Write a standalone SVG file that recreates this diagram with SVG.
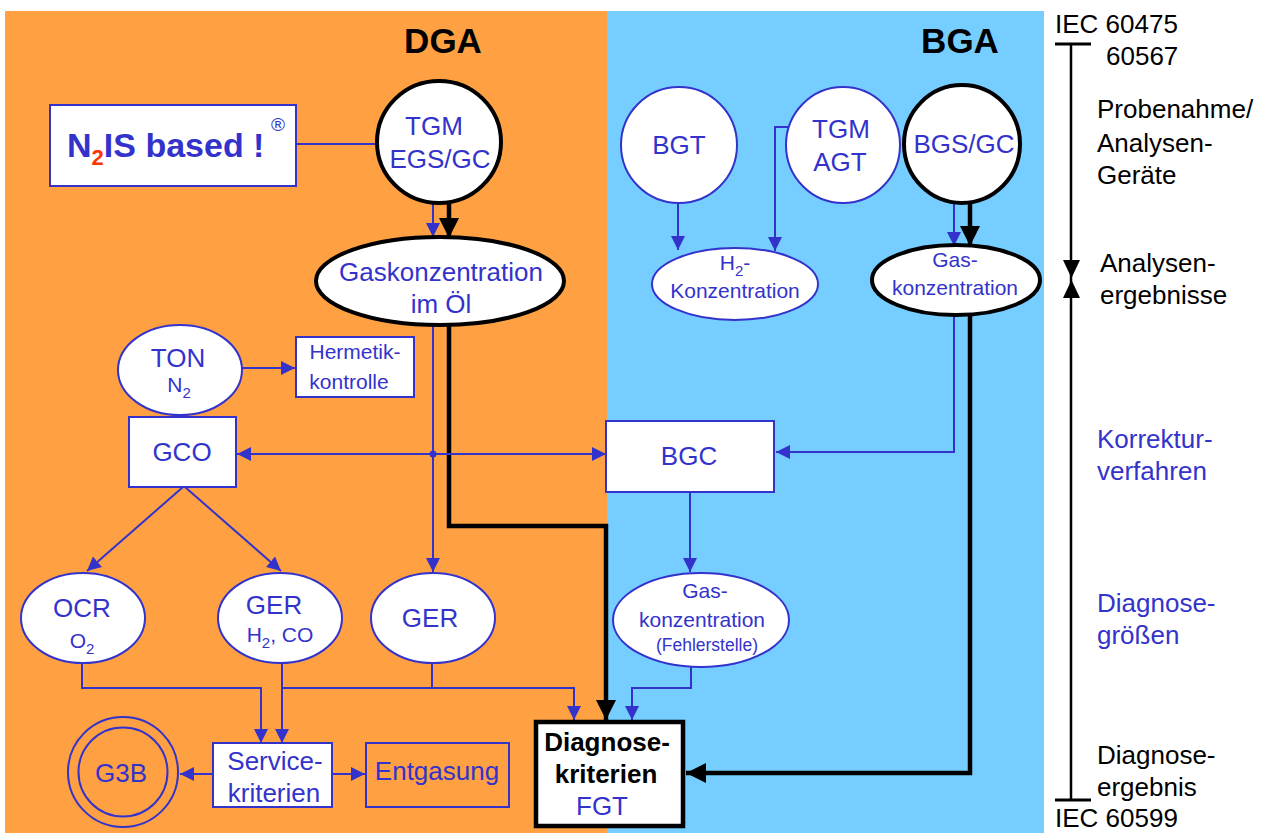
<svg xmlns="http://www.w3.org/2000/svg" width="1273" height="833" viewBox="0 0 1273 833">
<style>
text{font-family:"Liberation Sans",Arial,Helvetica,sans-serif;}
.b{fill:#3333CC;font-size:26px;}
.m{fill:#3333CC;font-size:21px;}
.k{fill:#000;font-size:26px;}
.node{fill:#fff;stroke:#3333CC;stroke-width:2;}
.nodek{fill:#fff;stroke:#000;stroke-width:4;}
.bl{fill:none;stroke:#3333CC;stroke-width:2;}
.bk{fill:none;stroke:#000;stroke-width:4.5;}
.mid{text-anchor:middle;}
</style>
<defs>
<marker id="ab" markerUnits="userSpaceOnUse" viewBox="0 0 14 14" refX="14" refY="7" markerWidth="14" markerHeight="14" orient="auto-start-reverse"><path d="M0,0 L14,7 L0,14 z" fill="#3333CC"/></marker>
<marker id="ak" markerUnits="userSpaceOnUse" viewBox="0 0 20 20" refX="20" refY="10" markerWidth="20" markerHeight="20" orient="auto"><path d="M0,0 L20,10 L0,20 z" fill="#000"/></marker>
</defs>
<rect x="5" y="11" width="602" height="822" fill="#FFA042"/>
<rect x="607" y="11" width="437" height="822" fill="#75CEFF"/>
<text x="443" y="53" class="k mid" font-weight="bold" style="font-size:35px">DGA</text>
<text x="960" y="53" class="k mid" font-weight="bold" style="font-size:35px">BGA</text>

<g id="connectors">
<line x1="296" y1="144" x2="377" y2="144" class="bl"/>
<line x1="433" y1="204" x2="433" y2="237" class="bl" marker-end="url(#ab)"/>
<line x1="449" y1="204" x2="449" y2="238" class="bk" marker-end="url(#ak)"/>
<line x1="678" y1="202" x2="678" y2="250" class="bl" marker-end="url(#ab)"/>
<polyline points="806,127 775,127 775,251" class="bl" marker-end="url(#ab)"/>
<line x1="954" y1="203" x2="954" y2="246" class="bl" marker-end="url(#ab)"/>
<line x1="970" y1="203" x2="970" y2="246" class="bk" marker-end="url(#ak)"/>
<polyline points="954,315 954,452 776,452" class="bl" marker-end="url(#ab)"/>
<polyline points="970,315 970,773 686,773" class="bk" marker-end="url(#ak)"/>
<line x1="242" y1="368" x2="295" y2="368" class="bl" marker-end="url(#ab)"/>
<line x1="433" y1="325" x2="433" y2="572" class="bl" marker-end="url(#ab)"/>
<polyline points="449,325 449,526 606,526 606,720" class="bk" marker-end="url(#ak)"/>
<line x1="237" y1="454" x2="606" y2="454" class="bl" marker-start="url(#ab)" marker-end="url(#ab)"/>
<circle cx="433" cy="454" r="3.5" fill="#3333CC"/>
<line x1="183" y1="487" x2="87" y2="571" class="bl" marker-end="url(#ab)"/>
<line x1="185" y1="487" x2="281" y2="571" class="bl" marker-end="url(#ab)"/>
<line x1="690" y1="492" x2="690" y2="572" class="bl" marker-end="url(#ab)"/>
<polyline points="691,667 691,688 632,688 632,720" class="bl" marker-end="url(#ab)"/>
<polyline points="82,663 82,688 261,688 261,743" class="bl" marker-end="url(#ab)"/>
<line x1="282" y1="663" x2="282" y2="743" class="bl" marker-end="url(#ab)"/>
<polyline points="282,688 574,688 574,720" class="bl" marker-end="url(#ab)"/>
<line x1="432" y1="663" x2="432" y2="688" class="bl"/>
<line x1="213" y1="774" x2="180" y2="774" class="bl" marker-end="url(#ab)"/>
<line x1="332" y1="774" x2="365" y2="774" class="bl" marker-end="url(#ab)"/>
</g>

<g id="n2is">
<rect x="50" y="105" width="246" height="81" class="node"/>
<text x="67" y="157" font-size="34" font-weight="bold" fill="#3333CC">N<tspan fill="#FF3300" font-size="22" dy="8">2</tspan><tspan dy="-8">IS based !</tspan></text>
<text x="271" y="131" font-size="19" fill="#3333CC">®</text>
</g>
<g id="tgm-egs">
<ellipse cx="439" cy="142" rx="62" ry="61" class="nodek"/>
<text x="434" y="135" class="b mid">TGM</text>
<text x="440" y="168" class="b mid">EGS/GC</text>
</g>
<g id="gaskonz-oel">
<ellipse cx="440" cy="281" rx="124" ry="44" class="nodek"/>
<text x="441" y="281" class="b mid">Gaskonzentration</text>
<text x="441" y="313" class="b mid">im Öl</text>
</g>
<g id="bgt">
<ellipse cx="679" cy="145" rx="58" ry="58" class="node"/>
<text x="679" y="154" class="b mid">BGT</text>
</g>
<g id="tgm-agt">
<ellipse cx="843" cy="145" rx="57" ry="58" class="node"/>
<text x="841" y="138" class="b mid">TGM</text>
<text x="840" y="171" class="b mid">AGT</text>
</g>
<g id="bgs-gc">
<ellipse cx="962" cy="144" rx="58" ry="59" class="nodek"/>
<text x="964" y="153" class="b mid">BGS/GC</text>
</g>
<g id="h2-konz">
<ellipse cx="735" cy="284" rx="83" ry="36" class="node"/>
<text x="735" y="270" class="m mid">H<tspan font-size="15" dy="6">2</tspan><tspan dy="-6">-</tspan></text>
<text x="735" y="298" class="m mid">Konzentration</text>
</g>
<g id="gaskonz-bga">
<ellipse cx="956" cy="280" rx="84" ry="35" class="nodek"/>
<text x="955" y="267" class="m mid">Gas-</text>
<text x="955" y="295" class="m mid">konzentration</text>
</g>
<g id="ton">
<ellipse cx="180" cy="370" rx="62" ry="45" class="node"/>
<text x="178" y="367" class="b mid">TON</text>
<text x="179" y="392" class="m mid">N<tspan font-size="15" dy="6">2</tspan></text>
</g>
<g id="hermetik">
<rect x="296" y="337" width="118" height="60" class="node"/>
<text x="355" y="359" class="mid" fill="#3333CC" font-size="21">Hermetik-</text>
<text x="349" y="389" class="mid" fill="#3333CC" font-size="21">kontrolle</text>
</g>
<g id="gco">
<rect x="129" y="417" width="107" height="70" class="node"/>
<text x="182" y="461" class="b mid">GCO</text>
</g>
<g id="bgc">
<rect x="606" y="421" width="168" height="71" class="node"/>
<text x="689" y="465" class="b mid">BGC</text>
</g>
<g id="ocr">
<ellipse cx="83" cy="618" rx="62" ry="45" class="node"/>
<text x="82" y="617" class="b mid">OCR</text>
<text x="82" y="648" class="m mid">O<tspan font-size="15" dy="6">2</tspan></text>
</g>
<g id="ger-h2co">
<ellipse cx="280" cy="618" rx="62" ry="45" class="node"/>
<text x="274" y="614" class="b mid">GER</text>
<text x="280" y="642" class="m mid">H<tspan font-size="15" dy="6">2</tspan><tspan dy="-6">, CO</tspan></text>
</g>
<g id="ger">
<ellipse cx="433" cy="618" rx="62" ry="45" class="node"/>
<text x="430" y="627" class="b mid">GER</text>
</g>
<g id="gaskonz-fehler">
<ellipse cx="701" cy="620" rx="88" ry="47" class="node"/>
<text x="705" y="598" class="m mid">Gas-</text>
<text x="702" y="627" class="m mid">konzentration</text>
<text x="707" y="651" class="mid" fill="#3333CC" font-size="17.5">(Fehlerstelle)</text>
</g>
<g id="g3b">
<circle cx="123" cy="772" r="55" fill="none" stroke="#3333CC" stroke-width="2"/>
<circle cx="123" cy="772" r="44.5" fill="none" stroke="#3333CC" stroke-width="2"/>
<text x="121" y="782" class="b mid">G3B</text>
</g>
<g id="service">
<rect x="213" y="743" width="119" height="64" class="node"/>
<text x="275" y="770" class="b mid">Service-</text>
<text x="274" y="802" class="b mid">kriterien</text>
</g>
<g id="entgasung">
<rect x="366" y="743" width="143" height="64" fill="none" stroke="#3333CC" stroke-width="2"/>
<text x="437" y="780" class="b mid">Entgasung</text>
</g>
<g id="diagnose">
<rect x="536" y="722" width="147" height="104" fill="#fff" stroke="#000" stroke-width="4.5"/>
<text x="607" y="751" class="k mid" font-weight="bold">Diagnose-</text>
<text x="606" y="783" class="k mid" font-weight="bold">kriterien</text>
<text x="602" y="815" class="b mid">FGT</text>
</g>

<g id="scale">
<line x1="1071" y1="44" x2="1071" y2="800" stroke="#000" stroke-width="2.5"/>
<line x1="1055" y1="44" x2="1091" y2="44" stroke="#000" stroke-width="3"/>
<line x1="1055" y1="800" x2="1091" y2="800" stroke="#000" stroke-width="3"/>
<path d="M1063,260 L1080,260 L1071.5,278 z" fill="#000"/>
<path d="M1063,298 L1080,298 L1071.5,280 z" fill="#000"/>
<text x="1055" y="33" class="k">IEC 60475</text>
<text x="1106" y="65" class="k">60567</text>
<text x="1097" y="118" class="k">Probenahme/</text>
<text x="1097" y="152" class="k">Analysen-</text>
<text x="1097" y="184" class="k">Geräte</text>
<text x="1100" y="272" class="k">Analysen-</text>
<text x="1100" y="304" class="k">ergebnisse</text>
<text x="1097" y="448" class="b">Korrektur-</text>
<text x="1097" y="480" class="b">verfahren</text>
<text x="1097" y="612" class="b">Diagnose-</text>
<text x="1097" y="644" class="b">größen</text>
<text x="1097" y="764" class="k">Diagnose-</text>
<text x="1097" y="796" class="k">ergebnis</text>
<text x="1055" y="827" class="k">IEC 60599</text>
</g>
</svg>
